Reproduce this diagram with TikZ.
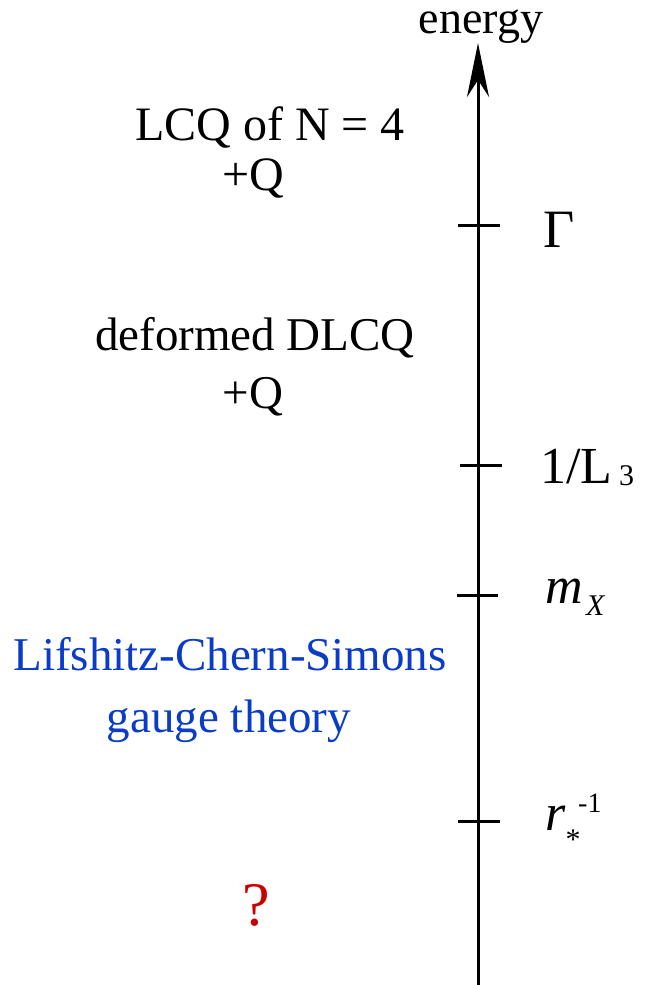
\documentclass[tikz,border=0pt]{standalone}
\usepackage{fontspec}
\setmainfont{Liberation Serif}
\usetikzlibrary{arrows.meta}
\definecolor{lblue}{HTML}{0A3CC8}
\definecolor{lred}{HTML}{C80000}
\newcommand{\fs}[1]{\fontsize{#1}{#1}\selectfont}
\begin{document}
\begin{tikzpicture}[x=1pt,y=-1pt,
  axisline/.style={line width=3pt,-{Stealth[length=54pt,width=22pt,inset=17pt]}},
  tickline/.style={line width=3pt},
  txt/.style={inner sep=0pt,anchor=base},
  rlab/.style={inner sep=0pt,anchor=base west}]
\useasboundingbox (0,0) rectangle (645,985);
% axis
\coordinate (bot) at (478,985);
\coordinate (top) at (478,43);
\draw[axisline] (bot) -- (top);
\node[txt,text height=22pt,text depth=10pt] (energy) at (481,33) {\fs{46}energy};
% ticks
\coordinate (ga) at (458,225); \coordinate (gb) at (500,225);
\coordinate (la) at (460,465); \coordinate (lb) at (502,465);
\coordinate (ma) at (457,595); \coordinate (mb) at (498,595);
\coordinate (ra) at (458,821); \coordinate (rb) at (500,821);
\draw[tickline] (ga) -- (gb);
\draw[tickline] (la) -- (lb);
\draw[tickline] (ma) -- (mb);
\draw[tickline] (ra) -- (rb);
% right labels
\node[rlab] (gamma) at (543,247) {\fs{54}Γ};
\node[rlab] (lthree) at (540,483) {\fs{52}1/L};
\node[rlab] (lsub) at (619,485) {\fs{30}3};
\node[rlab] (mlab) at (545,603) {\fs{52}\itshape m};
\node[rlab] (xsub) at (586,615) {\fs{30}\itshape X};
\node[rlab] (rlab) at (545,830) {\fs{52}\itshape r};
\node[inner sep=0pt] (rstar) at (573,840) {\fs{30}*};
\node[rlab] (rsup) at (578,812) {\fs{28}-1};
% left labels
\node[txt] (lcq) at (270,140) {\fs{48}LCQ of N = 4};
\node[txt] (q1) at (253,190) {\fs{48}+Q};
\node[txt] (dlcq) at (255,350) {\fs{47}deformed DLCQ};
\node[txt] (q2) at (253,408) {\fs{47}+Q};
\node[txt,text=lblue] (lcs) at (230,670) {\fs{47}Lifshitz-Chern-Simons};
\node[txt,text=lblue] (gauge) at (229,732) {\fs{47}gauge theory};
\node[txt,text=lred] (qm) at (256,925) {\fs{62}?};
\end{tikzpicture}
\end{document}
